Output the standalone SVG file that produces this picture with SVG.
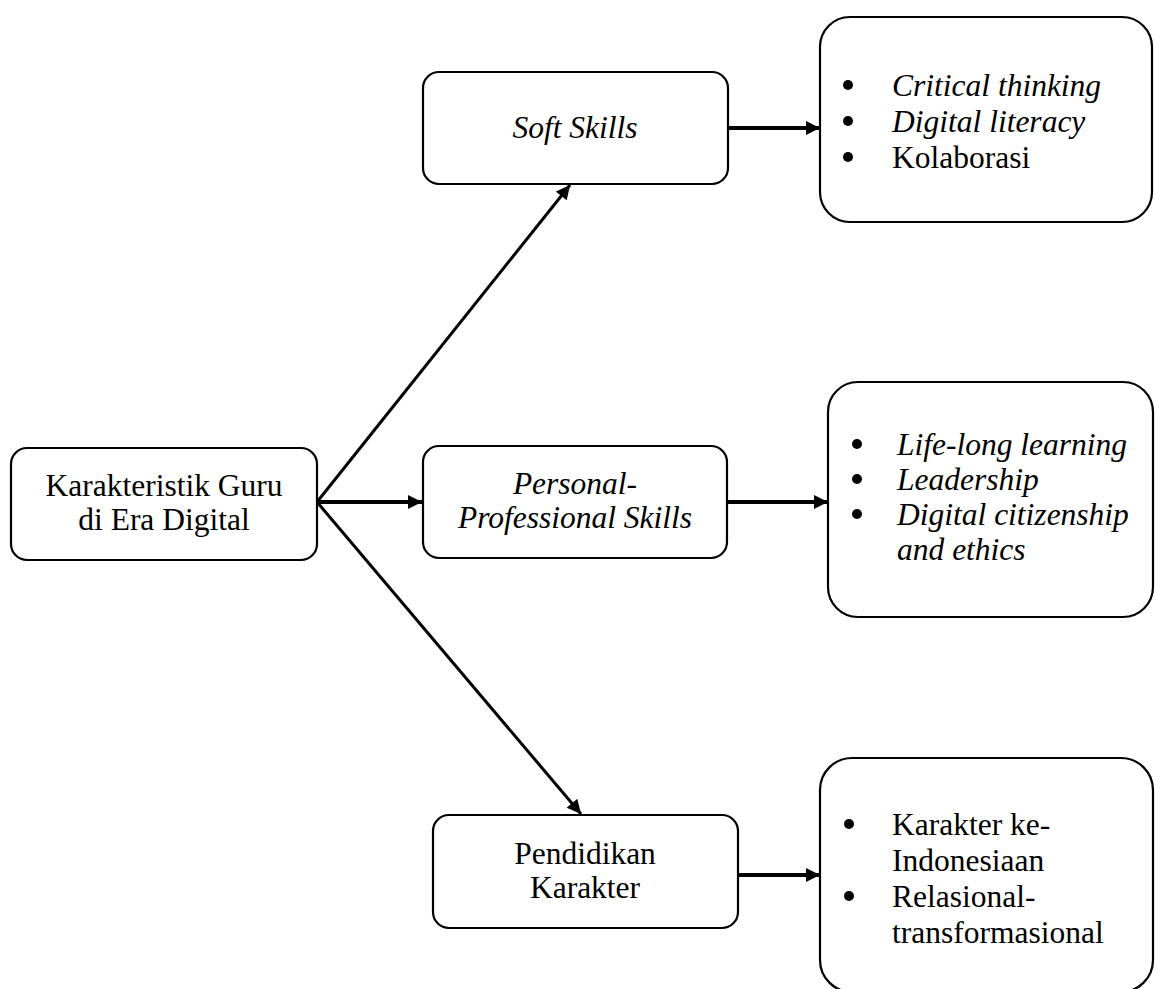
<svg xmlns="http://www.w3.org/2000/svg" width="1155" height="989" viewBox="0 0 1155 989">
<style>
.box{fill:#fff;stroke:#000;stroke-width:2.2}
.t{font-family:"Liberation Serif","Times New Roman",serif;font-size:31.5px;fill:#000}
.c{text-anchor:middle}
.i{font-style:italic}
.ln{stroke:#000;stroke-width:3;fill:none}
.hl{stroke:#000;stroke-width:3.8;fill:none}
.dot{fill:#000}
</style>
<defs>
<marker id="ah" viewBox="0 0 10 10" refX="10" refY="5" markerWidth="15" markerHeight="14" markerUnits="userSpaceOnUse" orient="auto">
<path d="M0,0 L10,5 L0,10 z" fill="#000"/>
</marker>
</defs>
<rect width="1155" height="989" fill="#fff"/>
<g id="connectors">
<line class="ln" x1="317" y1="502" x2="570" y2="185" marker-end="url(#ah)"/>
<line class="hl" x1="317" y1="502" x2="422" y2="502" marker-end="url(#ah)"/>
<line class="ln" x1="317" y1="502" x2="581" y2="814" marker-end="url(#ah)"/>
<line class="hl" x1="728" y1="128" x2="820" y2="128" marker-end="url(#ah)"/>
<line class="hl" x1="727" y1="502" x2="828" y2="502" marker-end="url(#ah)"/>
<line class="hl" x1="738" y1="875" x2="820" y2="875" marker-end="url(#ah)"/>
</g>
<g id="node-main">
<rect class="box" x="11" y="448" width="306" height="112" rx="16"/>
<text class="t c" x="164" y="496">Karakteristik Guru</text>
<text class="t c" x="164" y="530">di Era Digital</text>
</g>
<g id="node-soft">
<rect class="box" x="423" y="72" width="305" height="112" rx="16"/>
<text class="t c i" x="575" y="138">Soft Skills</text>
</g>
<g id="node-personal">
<rect class="box" x="423" y="446" width="304" height="112" rx="16"/>
<text class="t c i" x="575" y="494">Personal-</text>
<text class="t c i" x="575" y="528">Professional Skills</text>
</g>
<g id="node-karakter">
<rect class="box" x="433" y="815" width="305" height="113" rx="16"/>
<text class="t c" x="585" y="864">Pendidikan</text>
<text class="t c" x="585" y="898">Karakter</text>
</g>
<g id="node-soft-list">
<rect class="box" x="820" y="17" width="332" height="205" rx="30"/>
<circle class="dot" cx="848" cy="85" r="5"/>
<circle class="dot" cx="848" cy="121" r="5"/>
<circle class="dot" cx="848" cy="157" r="5"/>
<text class="t i" x="892" y="96">Critical thinking</text>
<text class="t i" x="892" y="132">Digital literacy</text>
<text class="t" x="892" y="168">Kolaborasi</text>
</g>
<g id="node-personal-list">
<rect class="box" x="828" y="382" width="325" height="235" rx="30"/>
<circle class="dot" cx="857" cy="444" r="5"/>
<circle class="dot" cx="857" cy="479" r="5"/>
<circle class="dot" cx="857" cy="514" r="5"/>
<text class="t i" x="897" y="455">Life-long learning</text>
<text class="t i" x="897" y="490">Leadership</text>
<text class="t i" x="897" y="525">Digital citizenship</text>
<text class="t i" x="897" y="560">and ethics</text>
</g>
<g id="node-karakter-list">
<rect class="box" x="820" y="758" width="333" height="234" rx="32"/>
<circle class="dot" cx="849" cy="824" r="5"/>
<circle class="dot" cx="849" cy="896" r="5"/>
<text class="t" x="892" y="835">Karakter ke-</text>
<text class="t" x="892" y="871">Indonesiaan</text>
<text class="t" x="892" y="907">Relasional-</text>
<text class="t" x="892" y="943">transformasional</text>
</g>
</svg>
